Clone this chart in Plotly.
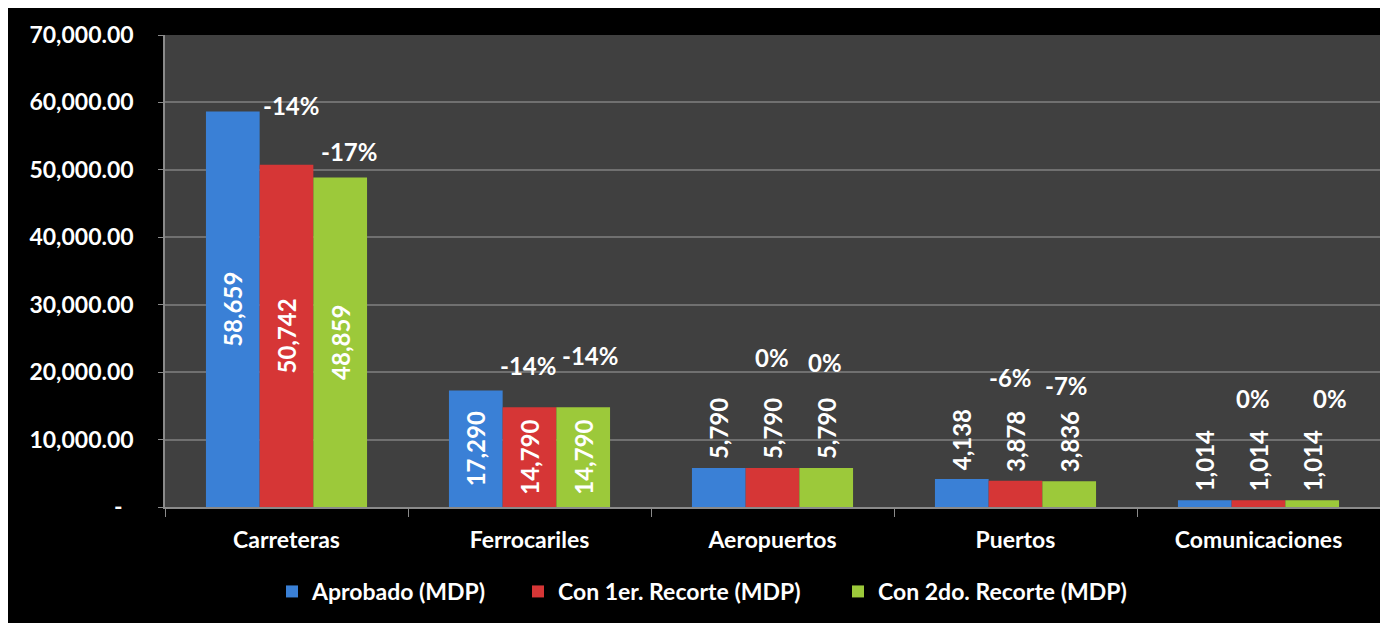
import plotly.graph_objects as go

# ---------------- data ----------------
categories = ["Carreteras", "Ferrocariles", "Aeropuertos", "Puertos", "Comunicaciones"]
aprobado = [58659, 17290, 5790, 4138, 1014]
recorte1 = [50742, 14790, 5790, 3878, 1014]
recorte2 = [48859, 14790, 5790, 3836, 1014]
series_names = ["Aprobado (MDP)", "Con 1er. Recorte (MDP)", "Con 2do. Recorte (MDP)"]
pct_recorte1 = ["-14%", "-14%", "0%", "-6%", "0%"]
pct_recorte2 = ["-17%", "-14%", "0%", "-7%", "0%"]

y_tickvals = [0, 10000, 20000, 30000, 40000, 50000, 60000, 70000]
y_ticktext = ["-\u00a0\u00a0", "10,000.00", "20,000.00", "30,000.00", "40,000.00",
              "50,000.00", "60,000.00", "70,000.00"]

# ---------------- layout / style constants ----------------
W, H = 1388, 623
ML, MR, MT, MB = 157, 16, 25, 124
PW, PH = W - ML - MR, H - MT - MB
FONT = "Lato"
colors = ["#3a80d6", "#d63636", "#9cc93a"]
text_pos = ["inside", "inside", "outside", "outside", "outside"]
text_tpl = ["%{y:,}" if p == "inside" else "\u00a0%{y:,}" for p in text_pos]
bar_px = 54
# percent label placement (y in axis units, x offsets in px)
pct1_y = [59600, 20950, 22100, 19200, 16100]
pct2_y = [52650, 22400, 21400, 18000, 16100]
pct1_dx = [4, -2, -1, -5, -6]
pct2_dx = [8, 6, -2, -3, 17]
# legend entry left edges in figure pixels
legend_left_px = [264, 510, 830]
legend_ids = ["legend", "legend2", "legend3"]

fig = go.Figure()
for name, vals, col, lg in zip(series_names, [aprobado, recorte1, recorte2], colors, legend_ids):
    fig.add_trace(go.Bar(
        name=name, x=categories, y=vals, legend=lg,
        marker=dict(color=col, line=dict(width=0)),
        texttemplate=text_tpl, textposition=text_pos, textangle=-90,
        insidetextanchor="middle", constraintext="none",
        textfont=dict(family=FONT, size=24, color="white", weight="bold"),
        cliponaxis=False,
    ))

annotations = []
for i, cat in enumerate(categories):
    for txt, yy, dx in [(pct_recorte1[i], pct1_y[i], pct1_dx[i]),
                        (pct_recorte2[i], pct2_y[i], pct2_dx[i] + bar_px)]:
        annotations.append(dict(
            x=cat, y=yy, xref="x", yref="y", text=txt, showarrow=False,
            xshift=dx, yanchor="middle",
            font=dict(family=FONT, size=24, color="white", weight="bold"),
        ))

legend_style = dict(orientation="h", xanchor="left", y=-0.179, yanchor="middle",
                    font=dict(family=FONT, size=23, color="white", weight="bold"),
                    bgcolor="rgba(0,0,0,0)", itemwidth=30, borderwidth=0)

fig.update_layout(
    width=W, height=H,
    margin=dict(l=ML, r=MR, t=MT, b=MB),
    paper_bgcolor="black", plot_bgcolor="#404040",
    barmode="group", bargap=0.337, bargroupgap=0,
    font=dict(family=FONT, color="white"),
    showlegend=True,
    annotations=annotations,
    xaxis=dict(
        showgrid=False, showline=True, linecolor="#8a8a8a", linewidth=1.5,
        ticks="outside", tickson="boundaries", ticklen=8, tickcolor="#8a8a8a",
        tickfont=dict(family=FONT, size=23, color="white", weight="bold"),
        ticklabelstandoff=12,
    ),
    yaxis=dict(
        range=[0, 70000], tickvals=y_tickvals, ticktext=y_ticktext,
        showgrid=True, gridcolor="#707070", gridwidth=1.5,
        showline=True, linecolor="#8a8a8a", linewidth=1.5,
        ticks="outside", ticklen=5, tickcolor="#8a8a8a",
        zeroline=False,
        tickfont=dict(family=FONT, size=23, color="white", weight="bold"),
        ticklabelstandoff=20,
    ),
)
for lg, lx in zip(legend_ids, legend_left_px):
    fig.update_layout({lg: dict(legend_style, x=(lx - ML) / PW)})

fig.write_html("out.html")
